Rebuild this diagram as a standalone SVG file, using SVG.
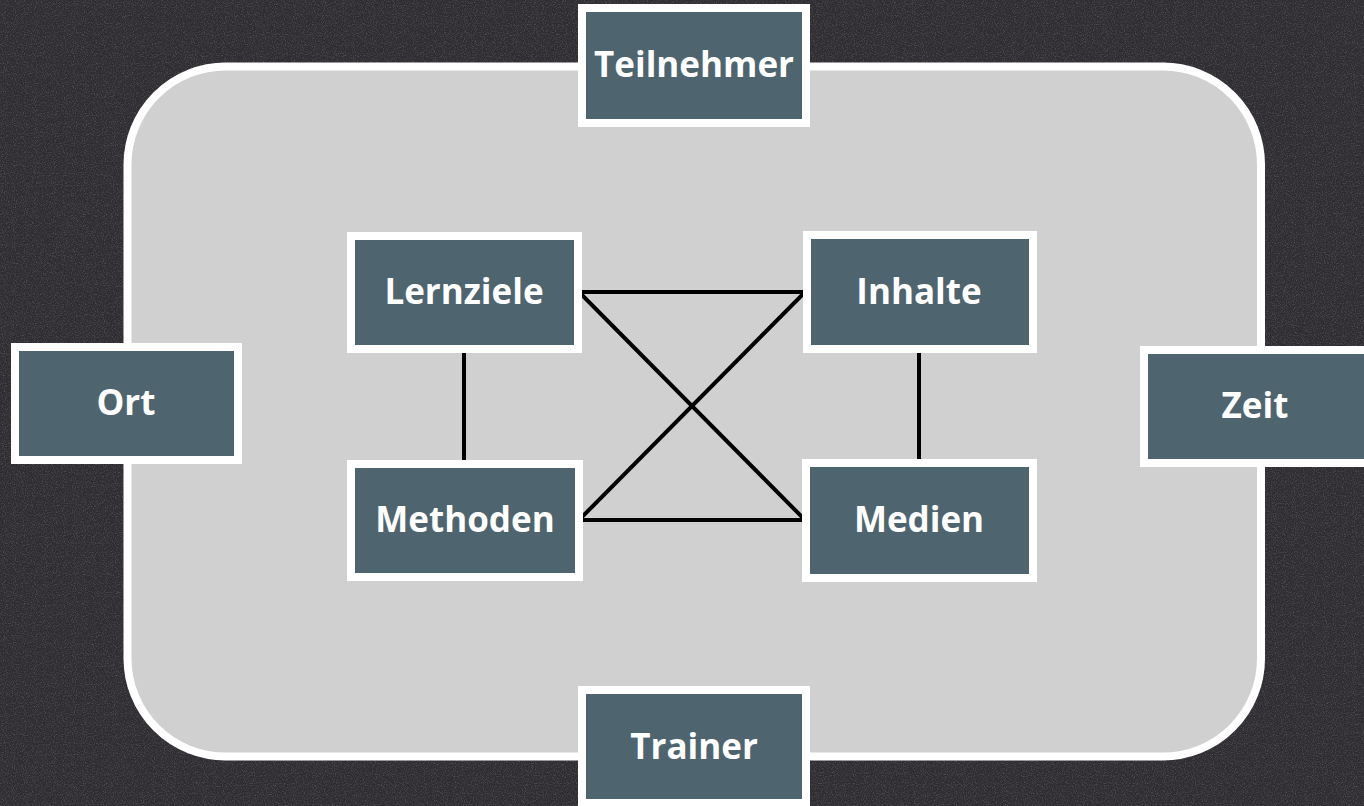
<svg xmlns="http://www.w3.org/2000/svg" width="1364" height="806" viewBox="0 0 1364 806">
<defs>
<style>
.box{fill:#4e6570;stroke:#ffffff;stroke-width:8}
.lbl{font-family:"Open Sans","Liberation Sans",sans-serif;font-weight:bold;font-size:35px;fill:#ffffff;text-anchor:middle}
.con{stroke:#000000;stroke-width:4;fill:none;stroke-linecap:square}
</style>
<filter id="noise" x="0" y="0" width="100%" height="100%">
<feTurbulence type="fractalNoise" baseFrequency="0.9" numOctaves="2" seed="3" result="n"/>
<feColorMatrix in="n" type="matrix" values="0 0 0 0 1  0 0 0 0 1  0 0 0 0 1  0 0 0 1.2 -0.55" result="s"/>
<feComposite in="s" in2="SourceGraphic" operator="in"/>
</filter>
</defs>
<rect x="0" y="0" width="1364" height="806" fill="#2f2d31"/>
<rect x="0" y="0" width="1364" height="806" fill="#2f2d31" filter="url(#noise)" opacity="0.35"/>
<g id="panel">
<rect x="127.5" y="66.5" width="1133.5" height="690" rx="98" ry="98" fill="#d0d0d0" stroke="#ffffff" stroke-width="8"/>
</g>
<g id="connectors">
<line class="con" x1="464" y1="349" x2="464" y2="463"/>
<line class="con" x1="919" y1="349" x2="919" y2="463"/>
<line class="con" x1="579" y1="292" x2="805" y2="292"/>
<line class="con" x1="579" y1="520" x2="805" y2="520"/>
<line class="con" x1="579" y1="292" x2="805" y2="520"/>
<line class="con" x1="805" y1="292" x2="579" y2="520"/>
</g>
<g id="teilnehmer"><rect class="box" x="582" y="8" width="224" height="115"/><text class="lbl" x="694" y="77">Teilnehmer</text></g>
<g id="ort"><rect class="box" x="15" y="347" width="223" height="113"/><text class="lbl" x="126" y="415">Ort</text></g>
<g id="zeit"><rect class="box" x="1144" y="350" width="224" height="113"/><text class="lbl" x="1255" y="418">Zeit</text></g>
<g id="trainer"><rect class="box" x="582" y="690" width="224" height="113"/><text class="lbl" x="694" y="759">Trainer</text></g>
<g id="lernziele"><rect class="box" x="351" y="236" width="227" height="113"/><text class="lbl" x="464" y="304">Lernziele</text></g>
<g id="inhalte"><rect class="box" x="807" y="235" width="226" height="114"/><text class="lbl" x="919" y="304">Inhalte</text></g>
<g id="methoden"><rect class="box" x="351" y="464" width="228" height="113"/><text class="lbl" x="465" y="532">Methoden</text></g>
<g id="medien"><rect class="box" x="806" y="463" width="227" height="115"/><text class="lbl" x="919" y="532">Medien</text></g>
</svg>
